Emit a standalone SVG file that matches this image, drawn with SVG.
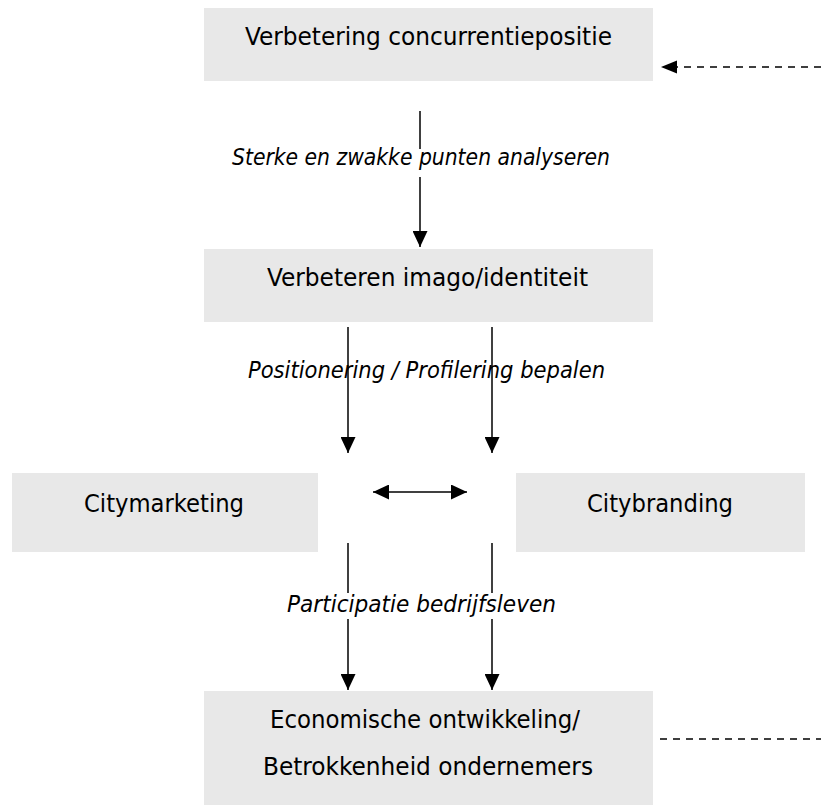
<svg xmlns="http://www.w3.org/2000/svg" width="821" height="805" viewBox="0 0 821 805">
<defs>
<style>
.box{fill:#e8e8e8;stroke:none}
.t{font-family:"DejaVu Sans Condensed","DejaVu Sans",sans-serif;font-stretch:condensed;font-size:25px;fill:#000}
.l{font-family:"DejaVu Sans Condensed","DejaVu Sans",sans-serif;font-stretch:condensed;font-style:italic;font-size:23px;fill:#000}
.c{stroke:#000;stroke-width:1.5;fill:none}
.d{stroke:#000;stroke-width:1.5;fill:none;stroke-dasharray:7 6}
.bg{fill:#fff}
</style>
<marker id="ah" markerUnits="userSpaceOnUse" markerWidth="17" markerHeight="15" refX="16" refY="7.5" orient="auto-start-reverse" viewBox="0 0 17 15">
<path d="M0,0 L16,7.5 L0,15 z" fill="#000"/>
</marker>
</defs>
<rect width="821" height="805" fill="#fff"/>
<g id="connectors">
<line class="c" x1="420" y1="111" x2="420" y2="247" marker-end="url(#ah)"/>
<line class="c" x1="348" y1="327" x2="348" y2="453" marker-end="url(#ah)"/>
<line class="c" x1="492" y1="327" x2="492" y2="453" marker-end="url(#ah)"/>
<line class="c" x1="373" y1="492" x2="467" y2="492" marker-start="url(#ah)" marker-end="url(#ah)"/>
<line class="c" x1="348" y1="543" x2="348" y2="690" marker-end="url(#ah)"/>
<line class="c" x1="492" y1="543" x2="492" y2="690" marker-end="url(#ah)"/>
<line class="d" x1="821" y1="67" x2="676" y2="67"/>
<path d="M677,60.5 L661,67 L677,73.5 z" fill="#000"/>
<line class="d" x1="660" y1="739" x2="821" y2="739"/>
<rect class="bg" x="230" y="149" width="384" height="28"/>
<text class="l" x="232" y="165" textLength="378" lengthAdjust="spacingAndGlyphs">Sterke en zwakke punten analyseren</text>
<text class="l" x="248" y="378" textLength="357" lengthAdjust="spacingAndGlyphs">Positionering / Profilering bepalen</text>
<rect class="bg" x="285" y="593" width="274" height="26"/>
<text class="l" x="287" y="612" textLength="269" lengthAdjust="spacingAndGlyphs">Participatie bedrijfsleven</text>
</g>
<g id="n1">
<rect class="box" x="204" y="8" width="449" height="73"/>
<text class="t" x="245" y="45" textLength="367" lengthAdjust="spacingAndGlyphs">Verbetering concurrentiepositie</text>
</g>
<g id="n2">
<rect class="box" x="204" y="249" width="449" height="73"/>
<text class="t" x="267" y="286" textLength="321" lengthAdjust="spacingAndGlyphs">Verbeteren imago/identiteit</text>
</g>
<g id="n3">
<rect class="box" x="12" y="473" width="306" height="79"/>
<text class="t" x="84" y="512" textLength="160" lengthAdjust="spacingAndGlyphs">Citymarketing</text>
</g>
<g id="n4">
<rect class="box" x="516" y="473" width="289" height="79"/>
<text class="t" x="587" y="512" textLength="146" lengthAdjust="spacingAndGlyphs">Citybranding</text>
</g>
<g id="n5">
<rect class="box" x="204" y="691" width="449" height="114"/>
<text class="t" x="270" y="728" textLength="310" lengthAdjust="spacingAndGlyphs">Economische ontwikkeling/</text>
<text class="t" x="263" y="775" textLength="330" lengthAdjust="spacingAndGlyphs">Betrokkenheid ondernemers</text>
</g>
</svg>
